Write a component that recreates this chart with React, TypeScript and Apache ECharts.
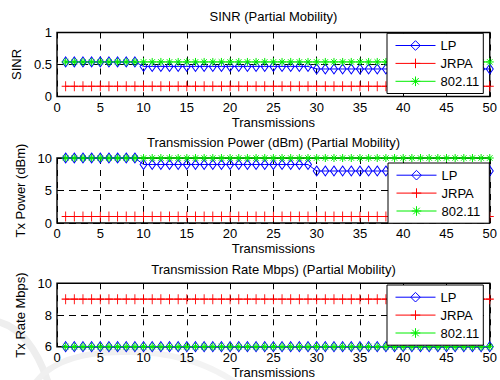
import React, { useEffect, useRef } from 'react';
import * as echarts from 'echarts';

const transmissions = [1, 2, 3, 4, 5, 6, 7, 8, 9, 10, 11, 12, 13, 14, 15, 16, 17, 18, 19, 20, 21, 22, 23, 24, 25, 26, 27, 28, 29, 30, 31, 32, 33, 34, 35, 36, 37, 38, 39, 40, 41, 42, 43, 44, 45, 46, 47, 48, 49, 50];

const sinrLP = [0.54, 0.54, 0.54, 0.54, 0.54, 0.54, 0.54, 0.54, 0.54, 0.47, 0.47, 0.47, 0.47, 0.47, 0.47, 0.47, 0.47, 0.47, 0.47, 0.47, 0.47, 0.47, 0.47, 0.47, 0.47, 0.47, 0.47, 0.47, 0.47, 0.43, 0.43, 0.43, 0.43, 0.43, 0.43, 0.43, 0.43, 0.43, 0.43, 0.43, 0.43, 0.43, 0.43, 0.43, 0.43, 0.43, 0.43, 0.43, 0.43, 0.43];
const sinrJRPA = [0.16, 0.16, 0.16, 0.16, 0.16, 0.16, 0.16, 0.16, 0.16, 0.16, 0.16, 0.16, 0.16, 0.16, 0.16, 0.16, 0.16, 0.16, 0.16, 0.16, 0.16, 0.16, 0.16, 0.16, 0.16, 0.16, 0.16, 0.16, 0.16, 0.16, 0.16, 0.16, 0.16, 0.16, 0.16, 0.16, 0.16, 0.16, 0.16, 0.16, 0.16, 0.16, 0.16, 0.16, 0.16, 0.16, 0.16, 0.16, 0.16, 0.16];
const sinr80211 = [0.54, 0.54, 0.54, 0.54, 0.54, 0.54, 0.54, 0.54, 0.54, 0.54, 0.54, 0.54, 0.54, 0.54, 0.54, 0.54, 0.54, 0.54, 0.54, 0.54, 0.54, 0.54, 0.54, 0.54, 0.54, 0.54, 0.54, 0.54, 0.54, 0.54, 0.54, 0.54, 0.54, 0.54, 0.54, 0.54, 0.54, 0.54, 0.54, 0.54, 0.54, 0.54, 0.54, 0.54, 0.54, 0.54, 0.54, 0.54, 0.54, 0.54];

const powerLP = [10, 10, 10, 10, 10, 10, 10, 10, 10, 9, 9, 9, 9, 9, 9, 9, 9, 9, 9, 9, 9, 9, 9, 9, 9, 9, 9, 9, 9, 8, 8, 8, 8, 8, 8, 8, 8, 8, 8, 8, 8, 8, 8, 8, 8, 8, 8, 8, 8, 8];
const powerJRPA = [1, 1, 1, 1, 1, 1, 1, 1, 1, 1, 1, 1, 1, 1, 1, 1, 1, 1, 1, 1, 1, 1, 1, 1, 1, 1, 1, 1, 1, 1, 1, 1, 1, 1, 1, 1, 1, 1, 1, 1, 1, 1, 1, 1, 1, 1, 1, 1, 1, 1];
const power80211 = [10, 10, 10, 10, 10, 10, 10, 10, 10, 10, 10, 10, 10, 10, 10, 10, 10, 10, 10, 10, 10, 10, 10, 10, 10, 10, 10, 10, 10, 10, 10, 10, 10, 10, 10, 10, 10, 10, 10, 10, 10, 10, 10, 10, 10, 10, 10, 10, 10, 10];

const rateLP = [6, 6, 6, 6, 6, 6, 6, 6, 6, 6, 6, 6, 6, 6, 6, 6, 6, 6, 6, 6, 6, 6, 6, 6, 6, 6, 6, 6, 6, 6, 6, 6, 6, 6, 6, 6, 6, 6, 6, 6, 6, 6, 6, 6, 6, 6, 6, 6, 6, 6];
const rateJRPA = [9, 9, 9, 9, 9, 9, 9, 9, 9, 9, 9, 9, 9, 9, 9, 9, 9, 9, 9, 9, 9, 9, 9, 9, 9, 9, 9, 9, 9, 9, 9, 9, 9, 9, 9, 9, 9, 9, 9, 9, 9, 9, 9, 9, 9, 9, 9, 9, 9, 9];
const rate80211 = [6, 6, 6, 6, 6, 6, 6, 6, 6, 6, 6, 6, 6, 6, 6, 6, 6, 6, 6, 6, 6, 6, 6, 6, 6, 6, 6, 6, 6, 6, 6, 6, 6, 6, 6, 6, 6, 6, 6, 6, 6, 6, 6, 6, 6, 6, 6, 6, 6, 6];

const seriesNames = ['LP', 'JRPA', '802.11'];
const titles = [
  'SINR (Partial Mobility)',
  'Transmission Power (dBm) (Partial Mobility)',
  'Transmission Rate Mbps) (Partial Mobility)',
];
const yNames = ['SINR', 'Tx Power (dBm)', 'Tx Rate Mbps)'];
const xName = 'Transmissions';
const yRanges = [
  { min: 0, max: 1, interval: 0.5 },
  { min: 0, max: 10, interval: 5 },
  { min: 6, max: 10, interval: 2 },
];
const panelData = [
  [sinrLP, sinrJRPA, sinr80211],
  [powerLP, powerJRPA, power80211],
  [rateLP, rateJRPA, rate80211],
];

const FONT = 'Liberation Sans, Arial, Helvetica, sans-serif';
const plusPath = 'path://M5,0L5,10M0,5L10,5';
const starPath = 'path://M5,0L5,10M0,5L10,5M1.6,1.6L8.4,8.4M1.6,8.4L8.4,1.6';

const grids = [
  { top: 32.5, height: 64 },
  { top: 158, height: 65 },
  { top: 283.3, height: 63.4 },
];
const legendPos = [
  { left: 387, top: 33.3, padRight: 4 },
  { left: 388, top: 163, padRight: 9 },
  { left: 387, top: 285, padRight: 4 },
];
const yNameGaps = [31, 28, 28];

const styles = [
  { color: '#0000ff', symbol: 'diamond', size: [7, 10] },
  { color: '#ff0000', symbol: plusPath, size: [8, 10] },
  { color: '#00ee00', symbol: starPath, size: [8, 8] },
];

export default function App() {
  const ref = useRef<HTMLDivElement>(null);
  useEffect(() => {
    if (!ref.current) return;
    const chart = echarts.init(ref.current, null, { renderer: 'svg' });

    const grid = grids.map((g) => ({
      left: 57,
      right: 9.5,
      top: g.top,
      height: g.height,
      show: true,
      borderColor: '#000',
      borderWidth: 1.4,
      backgroundColor: 'transparent',
    }));

    const xAxis = grids.map((_, i) => ({
      type: 'value',
      gridIndex: i,
      min: 0,
      max: 50,
      interval: 5,
      name: xName,
      nameLocation: 'middle',
      nameGap: 19,
      nameTextStyle: { fontFamily: FONT, fontSize: 13, color: '#000' },
      axisLine: { show: false },
      axisTick: { show: true, inside: true, length: 4, lineStyle: { color: '#000' } },
      axisLabel: { fontFamily: FONT, fontSize: 13, color: '#000', margin: 4 },
      splitLine: { show: true, lineStyle: { color: '#000', type: [6, 6], width: 1 } },
    }));

    const yAxis = grids.map((_, i) => ({
      type: 'value',
      gridIndex: i,
      min: yRanges[i].min,
      max: yRanges[i].max,
      interval: yRanges[i].interval,
      name: yNames[i],
      nameLocation: 'middle',
      nameGap: yNameGaps[i],
      nameTextStyle: { fontFamily: FONT, fontSize: 13, color: '#000' },
      axisLine: { show: false },
      axisTick: { show: true, inside: true, length: 4, lineStyle: { color: '#000' } },
      axisLabel: { fontFamily: FONT, fontSize: 13, color: '#000', margin: 5 },
      splitLine: { show: true, lineStyle: { color: '#000', type: [7, 5], width: 1 } },
    }));

    const series: any[] = [];
    panelData.forEach((panel, gi) => {
      panel.forEach((vals, si) => {
        const st = styles[si];
        series.push({
          type: 'line',
          name: seriesNames[si],
          xAxisIndex: gi,
          yAxisIndex: gi,
          data: transmissions.map((x, k) => [x, vals[k]]),
          symbol: st.symbol,
          symbolSize: st.size,
          showSymbol: true,
          showAllSymbol: true,
          clip: false,
          lineStyle: { color: st.color, width: 1 },
          itemStyle: { color: 'rgba(255,255,255,0)', borderColor: st.color, borderWidth: 1 },
          emphasis: { disabled: true },
          z: 2,
        });
      });
    });

    const legendData = seriesNames.map((n, si) => ({
      name: n,
      itemStyle: { color: 'rgba(255,255,255,0)', borderColor: styles[si].color, borderWidth: 1 },
      lineStyle: { color: styles[si].color, width: 1 },
    }));

    const legend = legendPos.map((l) => ({
      orient: 'vertical',
      left: l.left,
      top: l.top,
      z: 20,
      data: legendData,
      itemWidth: 40,
      itemHeight: 12,
      itemGap: 4.9,
      padding: [5.7, l.padRight, 5.7, 8],
      backgroundColor: '#fff',
      borderColor: '#000',
      borderWidth: 1,
      borderRadius: 0,
      selectedMode: false,
      textStyle: { fontFamily: FONT, fontSize: 13, color: '#000' },
    }));

    const titleCenters = [16, 142, 269];
    const graphic: any[] = [
      {
        type: 'bezierCurve',
        z: -10,
        silent: true,
        shape: { x1: -5, y1: 321, cpx1: 30, cpy1: 328, x2: 48, y2: 382 },
        style: { stroke: '#eeeeee', lineWidth: 7, fill: null },
      },
      {
        type: 'bezierCurve',
        z: -10,
        silent: true,
        shape: { x1: 36, y1: 382, cpx1: 60, cpy1: 350, x2: 130, y2: 352 },
        style: { stroke: '#f0f0f0', lineWidth: 6, fill: null },
      },
      {
        type: 'bezierCurve',
        z: -10,
        silent: true,
        shape: { x1: 130, y1: 352, cpx1: 190, cpy1: 352, x2: 235, y2: 382 },
        style: { stroke: '#f3f3f3', lineWidth: 6, fill: null },
      },
      ...titles.map((t, i) => ({
        type: 'text',
        x: 273.5,
        y: titleCenters[i],
        silent: true,
        style: {
          text: t,
          align: 'center',
          verticalAlign: 'middle',
          fontFamily: FONT,
          fontSize: 13,
          fill: '#000',
        },
      })),
    ];

    chart.setOption({
      animation: false,
      backgroundColor: '#fff',
      grid,
      xAxis,
      yAxis,
      legend,
      series,
      graphic,
    } as any);

    return () => chart.dispose();
  }, []);

  return (
    <div
      ref={ref}
      style={{ position: 'fixed', left: 0, top: 0, width: 500, height: 380 }}
    />
  );
}
